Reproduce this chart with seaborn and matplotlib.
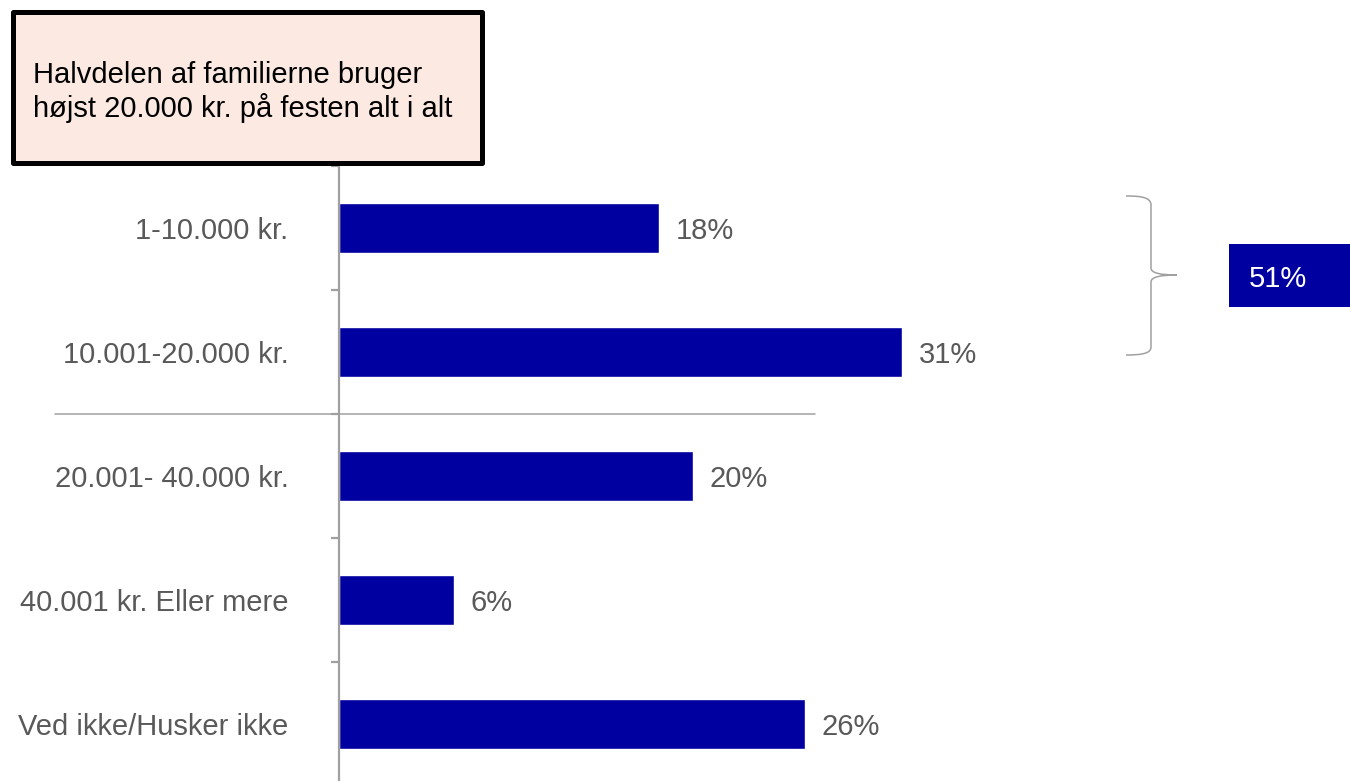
import matplotlib
matplotlib.use("Agg")
import matplotlib.pyplot as plt
import seaborn as sns
import pandas as pd
from matplotlib.patches import Rectangle, PathPatch
from matplotlib.path import Path
from matplotlib.lines import Line2D
import matplotlib.transforms as mtransforms

# ---- data ----
categories = ["1-10.000 kr.", "10.001-20.000 kr.", "20.001- 40.000 kr.",
              "40.001 kr. Eller mere", "Ved ikke/Husker ikke"]
values = [17.8, 31.3, 19.7, 6.4, 25.9]
value_labels = ["18%", "31%", "20%", "6%", "26%"]
group_total_label = "51%"
box_lines = ["Halvdelen af familierne bruger", "højst 20.000 kr. på festen alt i alt"]

BAR = "#0000A0"
GRAY_TXT = "#595959"
GRAY_LINE = "#A0A0A0"

sns.set_style("white")
plt.rcParams["font.family"] = ["Liberation Sans", "DejaVu Sans"]

W, H = 1350, 781
fig = plt.figure(figsize=(W / 100, H / 100), dpi=100)

def fx(x):
    return x / W

def fy(y):
    return 1 - y / H

x0 = 338.5
ax_top, ax_bot = 166, 786
ax = fig.add_axes([fx(x0), fy(ax_bot), 1 - fx(x0), (ax_bot - ax_top) / H])

df = pd.DataFrame({"cat": categories, "val": values})
sns.barplot(data=df, x="val", y="cat", orient="h", color=BAR, width=0.4,
            saturation=1, ax=ax)

px_per_unit = 18.0
ax.set_xlim(0, (W - x0) / px_per_unit)
ax.set_ylim(len(categories) - 0.5, -0.5)

for s in ["top", "right", "bottom"]:
    ax.spines[s].set_visible(False)
ax.spines["left"].set_color(GRAY_LINE)
ax.spines["left"].set_linewidth(1.6)
ax.set_xticks([])
ax.set_xlabel("")
ax.set_ylabel("")

# boundary ticks (major, unlabeled) and centered labels (minor)
ax.set_yticks([i - 0.5 for i in range(len(categories) + 1)])
ax.set_yticklabels([])
ax.tick_params(axis="y", which="major", length=6, width=1.6, color=GRAY_LINE, left=True)
ax.set_yticks(range(len(categories)), minor=True)
ax.set_yticklabels(categories, minor=True)
ax.tick_params(axis="y", which="minor", length=0, pad=36, labelsize=21,
               labelcolor=GRAY_TXT)

# value labels
for i, (v, lab) in enumerate(zip(values, value_labels)):
    ax.annotate(lab, (v, i), xytext=(12, 0), textcoords="offset points",
                va="center_baseline", ha="left", fontsize=21, color=GRAY_TXT)

# separator line between groups
blend = mtransforms.blended_transform_factory(fig.transFigure, ax.transData)
ax.add_line(Line2D([fx(55), fx(815)], [1.5, 1.5], transform=blend,
                   color=GRAY_LINE, lw=1.1, clip_on=False))

# annotation box
fig.patches.append(Rectangle((fx(13), fy(162.5)), fx(482.5) - fx(13), (162.5 - 12) / H,
                             transform=fig.transFigure, facecolor="#FCE9E1",
                             edgecolor="black", lw=3.6, joinstyle="round", zorder=5))
fig.text(fx(33), fy(83), box_lines[0], fontsize=21, color="black",
         ha="left", va="baseline", zorder=6)
fig.text(fx(33), fy(117), box_lines[1], fontsize=21, color="black",
         ha="left", va="baseline", zorder=6)

# brace
pts = [(1126, 196), (1140, 196), (1151, 197), (1151, 205),
       (1151, 268),
       (1151, 273), (1160, 275), (1177, 275),
       (1160, 275), (1151, 277), (1151, 282),
       (1151, 347),
       (1151, 354), (1140, 355), (1126, 355)]
codes = [Path.MOVETO, Path.CURVE4, Path.CURVE4, Path.CURVE4,
         Path.LINETO,
         Path.CURVE4, Path.CURVE4, Path.CURVE4,
         Path.CURVE4, Path.CURVE4, Path.CURVE4,
         Path.LINETO,
         Path.CURVE4, Path.CURVE4, Path.CURVE4]
brace = Path([(fx(x), fy(y)) for x, y in pts], codes)
fig.patches.append(PathPatch(brace, transform=fig.transFigure, facecolor="none",
                             edgecolor=GRAY_LINE, lw=1.1))

# total box
fig.patches.append(Rectangle((fx(1229), fy(307)), fx(1350) - fx(1229), (307 - 244) / H,
                             transform=fig.transFigure, facecolor=BAR, edgecolor="none"))
fig.text(fx(1249), fy(276), group_total_label, fontsize=21, color="white",
         ha="left", va="center_baseline")

fig.savefig("out.png", dpi=100)
